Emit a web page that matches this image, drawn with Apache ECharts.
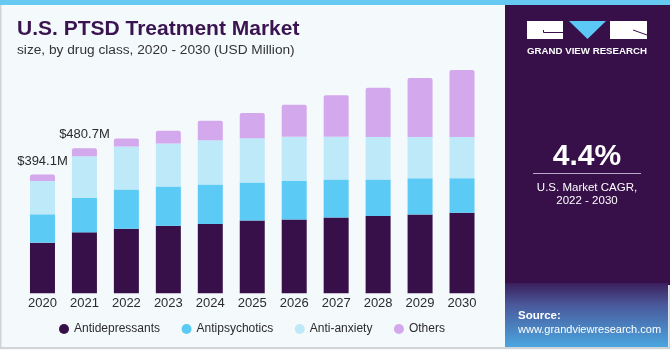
<!DOCTYPE html>
<html>
<head>
<meta charset="utf-8">
<script src="https://cdn.jsdelivr.net/npm/echarts@6/dist/echarts.min.js"></script>
<style>
  html, body { margin: 0; padding: 0; background: #f4f9fc; }
  #chart { width: 670px; height: 350px; }
</style>
</head>
<body>
<div id="chart"></div>
<script>
// values (USD Million)
const years = ['2020', '2021', '2022', '2023', '2024', '2025', '2026', '2027', '2028', '2029', '2030']
const antidepressants = [168, 202, 214, 224, 229.5, 241, 245, 251, 256, 261.6, 267]
const antipsychotics = [94, 115, 130, 130, 131.5, 126, 127, 126, 121.5, 120, 114.6]
const antiAnxiety = [110, 137.5, 143, 143, 146.7, 147, 147, 142, 141, 137, 137]
const others = [22.1, 26.2, 26.5, 42, 64, 84, 106, 138, 163, 195, 222]
const totalLabels = ['$394.1M', '$480.7M']

const DARK = '#371049'
const BLUE = '#5bcaf5'
const LIGHT = '#bde9f9'
const LILAC = '#d4a8ec'
const FONT = '"Liberation Sans", Arial, sans-serif'

const chart = echarts.init(document.getElementById('chart'))

const seriesDef = [
  { name: 'Antidepressants', data: antidepressants, color: DARK },
  { name: 'Antipsychotics', data: antipsychotics, color: BLUE },
  { name: 'Anti-anxiety', data: antiAnxiety, color: LIGHT },
  { name: 'Others', data: others, color: LILAC }
]

const series = seriesDef.map((s, i) => {
  const last = i === seriesDef.length - 1
  return {
    name: s.name,
    type: 'bar',
    stack: 'total',
    barWidth: 25,
    data: s.data,
    itemStyle: {
      color: s.color,
      borderRadius: last ? [2, 2, 0, 0] : 0
    },
    label: last ? {
      show: true,
      position: 'top',
      distance: 7,
      color: '#2b2b2b',
      fontSize: 13,
      fontFamily: FONT,
      formatter: p => totalLabels[p.dataIndex] || ''
    } : { show: false }
  }
})

const option = {
  backgroundColor: '#f4f9fc',
  animation: false,
  grid: { left: 21.5, right: 187, top: 52, bottom: 56.7 },
  xAxis: {
    type: 'category',
    data: years,
    axisLine: { show: false },
    axisTick: { show: false },
    axisLabel: { color: '#2b2b2b', fontSize: 13, fontFamily: FONT, margin: 4 }
  },
  yAxis: {
    type: 'value',
    min: 0,
    max: 800,
    show: false
  },
  legend: {
    left: 54,
    top: 318,
    icon: 'circle',
    itemWidth: 10,
    itemHeight: 10,
    itemGap: 21.5,
    textStyle: { color: '#2b2b2b', fontSize: 12, fontFamily: FONT },
    data: seriesDef.map(s => s.name)
  },
  series,
  graphic: [
    // frame
    { type: 'rect', z: -10, shape: { x: 0.5, y: 0, width: 669, height: 348 }, style: { fill: '#f4f9fc', stroke: '#d0d4d7', lineWidth: 2 } },
    { type: 'rect', z: -5, shape: { x: 0, y: 0, width: 670, height: 5 }, style: { fill: '#66c9f2' } },
    // title
    { type: 'text', left: 17, top: 19, style: { text: 'U.S. PTSD Treatment Market', fill: '#3a1450', font: 'bold 21px ' + FONT } },
    { type: 'text', left: 17, top: 43, style: { text: 'size, by drug class, 2020 - 2030 (USD Million)', fill: '#333333', font: '13.7px ' + FONT } },
    // right panel
    { type: 'rect', z: -4, shape: { x: 505, y: 5, width: 165, height: 280 }, style: { fill: '#37104a' } },
    {
      type: 'rect', z: -4,
      shape: { x: 505, y: 283, width: 163, height: 64 },
      style: {
        fill: new echarts.graphic.LinearGradient(0, 0, 0, 1, [
          { offset: 0, color: '#3b1f5c' },
          { offset: 0.35, color: '#4a5a9c' },
          { offset: 1, color: '#4aa6e0' }
        ])
      }
    },
    // logo
    { type: 'rect', shape: { x: 527, y: 21, width: 36, height: 18 }, style: { fill: '#ffffff' } },
    { type: 'polyline', shape: { points: [[543.5, 30], [543.5, 32.5], [563, 32.5]] }, style: { stroke: '#37104a', lineWidth: 1, fill: null } },
    { type: 'polygon', shape: { points: [[569, 21], [606, 21], [587.5, 39]] }, style: { fill: '#5bc8f5' } },
    { type: 'rect', shape: { x: 610, y: 21, width: 37, height: 18 }, style: { fill: '#ffffff' } },
    { type: 'line', shape: { x1: 633, y1: 30, x2: 647, y2: 35 }, style: { stroke: '#37104a', lineWidth: 1 } },
    { type: 'text', x: 587, y: 51, style: { text: 'GRAND VIEW RESEARCH', fill: '#ffffff', font: 'bold 9.7px ' + FONT, align: 'center', verticalAlign: 'middle' } },
    // CAGR
    { type: 'text', x: 587, y: 157, style: { text: '4.4%', fill: '#ffffff', font: 'bold 30px ' + FONT, align: 'center', verticalAlign: 'middle' } },
    { type: 'line', shape: { x1: 533, y1: 173.5, x2: 641, y2: 173.5 }, style: { stroke: '#b9a6c8', lineWidth: 1 } },
    { type: 'text', x: 587, y: 188, style: { text: 'U.S. Market CAGR,', fill: '#ffffff', font: '11.5px ' + FONT, align: 'center', verticalAlign: 'middle' } },
    { type: 'text', x: 587, y: 201, style: { text: '2022 - 2030', fill: '#ffffff', font: '11.5px ' + FONT, align: 'center', verticalAlign: 'middle' } },
    // source
    { type: 'text', x: 518, y: 316, style: { text: 'Source:', fill: '#ffffff', font: 'bold 11.5px ' + FONT, verticalAlign: 'middle' } },
    { type: 'text', x: 518, y: 330, style: { text: 'www.grandviewresearch.com', fill: '#ffffff', font: '11px ' + FONT, verticalAlign: 'middle' } }
  ]
}

chart.setOption(option)
</script>
</body>
</html>
